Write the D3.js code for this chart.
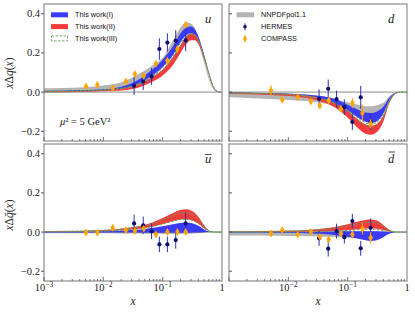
<!DOCTYPE html>
<html lang="en">
<head>
<meta charset="UTF-8">
<title>Polarized PDFs</title>
<script src="https://cdn.jsdelivr.net/npm/d3@7"></script>
<style>
  body { margin: 0; background: #fff; }
  svg text { font-family: "Liberation Serif", serif; fill: #222; }
  svg text.leg { font-family: "Liberation Sans", Arial, sans-serif; font-size: 7.3px; fill: #111; }
</style>
</head>
<body>
<svg id="chart" width="415" height="312"></svg>
<script>
// x grid for the bands
const xGrid = [0.001, 0.002, 0.005, 0.01, 0.02, 0.03, 0.05, 0.07, 0.1, 0.15, 0.2, 0.25, 0.3, 0.35, 0.4, 0.5, 0.6, 0.7, 0.8, 0.9, 1.0];

// u
const uNnpdfHi = [0.02, 0.021, 0.025, 0.033, 0.05, 0.072, 0.11, 0.14, 0.175, 0.265, 0.33, 0.355, 0.35, 0.325, 0.28, 0.17, 0.08, 0.025, 0.004, 0, 0];
const uNnpdfLo = [-0.005, -0.003, 0.003, 0.01, 0.02, 0.03, 0.05, 0.08, 0.125, 0.2, 0.27, 0.305, 0.31, 0.29, 0.25, 0.15, 0.065, 0.018, 0.002, 0, 0];
const uIHi = [0.006, 0.007, 0.01, 0.014, 0.027, 0.045, 0.085, 0.12, 0.165, 0.235, 0.3, 0.33, 0.335, 0.32, 0.285, 0.19, 0.1, 0.035, 0.007, 0.0005, 0];
const uILo = [0.001, 0.002, 0.004, 0.007, 0.016, 0.028, 0.06, 0.09, 0.13, 0.19, 0.255, 0.29, 0.3, 0.29, 0.26, 0.175, 0.09, 0.03, 0.006, 0, 0];
const uIIHi = [0.004, 0.005, 0.007, 0.01, 0.018, 0.028, 0.055, 0.08, 0.115, 0.18, 0.24, 0.285, 0.3, 0.295, 0.27, 0.185, 0.1, 0.035, 0.007, 0.0005, 0];
const uIILo = [0, 0.001, 0.002, 0.004, 0.008, 0.014, 0.035, 0.055, 0.085, 0.14, 0.2, 0.245, 0.265, 0.265, 0.245, 0.17, 0.09, 0.03, 0.006, 0, 0];
const uIIIHi = [0.005, 0.006, 0.008, 0.012, 0.02, 0.03, 0.058, 0.085, 0.125, 0.185, 0.25, 0.285, 0.298, 0.29, 0.265, 0.18, 0.095, 0.033, 0.006, 0, 0];
const uIIILo = [0.003, 0.004, 0.006, 0.009, 0.017, 0.026, 0.052, 0.078, 0.112, 0.176, 0.236, 0.28, 0.296, 0.29, 0.265, 0.18, 0.095, 0.033, 0.006, 0, 0];

// d
const dNnpdfHi = [0.0, -0.002, -0.006, -0.01, -0.015, -0.02, -0.03, -0.04, -0.052, -0.065, -0.072, -0.072, -0.068, -0.062, -0.055, -0.022, -0.006, -0.001, 0, 0, 0];
const dNnpdfLo = [-0.027, -0.03, -0.035, -0.04, -0.046, -0.052, -0.063, -0.075, -0.09, -0.108, -0.118, -0.12, -0.115, -0.105, -0.09, -0.038, -0.01, -0.002, 0, 0, 0];
const dIHi = [-0.002, -0.003, -0.005, -0.007, -0.012, -0.017, -0.028, -0.042, -0.065, -0.09, -0.105, -0.107, -0.102, -0.09, -0.075, -0.03, -0.008, -0.001, 0, 0, 0];
const dILo = [-0.008, -0.009, -0.012, -0.015, -0.024, -0.033, -0.05, -0.068, -0.095, -0.13, -0.152, -0.158, -0.152, -0.135, -0.11, -0.045, -0.013, -0.002, 0, 0, 0];
const dIIHi = [-0.003, -0.004, -0.007, -0.01, -0.018, -0.027, -0.045, -0.065, -0.095, -0.14, -0.165, -0.172, -0.165, -0.148, -0.12, -0.048, -0.013, -0.002, 0, 0, 0];
const dIILo = [-0.009, -0.011, -0.015, -0.02, -0.03, -0.042, -0.065, -0.09, -0.13, -0.185, -0.213, -0.218, -0.208, -0.185, -0.15, -0.06, -0.017, -0.003, 0, 0, 0];
const dIIIHi = [-0.004, -0.005, -0.008, -0.011, -0.019, -0.028, -0.045, -0.063, -0.092, -0.133, -0.158, -0.163, -0.157, -0.14, -0.114, -0.046, -0.013, -0.002, 0, 0, 0];
const dIIILo = [-0.005, -0.006, -0.009, -0.012, -0.021, -0.031, -0.05, -0.07, -0.1, -0.145, -0.17, -0.177, -0.17, -0.152, -0.124, -0.05, -0.014, -0.002, 0, 0, 0];

// u-bar
const ubNnpdfHi = [0.004, 0.004, 0.004, 0.004, 0.004, 0.004, 0.003, 0.003, 0.002, 0.002, 0.001, 0.001, 0.001, 0, 0, 0, 0, 0, 0, 0, 0];
const ubNnpdfLo = [-0.006, -0.006, -0.006, -0.006, -0.007, -0.007, -0.008, -0.009, -0.01, -0.01, -0.01, -0.009, -0.008, -0.007, -0.005, -0.002, -0.001, 0, 0, 0, 0];
const ubIHi = [0.002, 0.002, 0.003, 0.004, 0.007, 0.01, 0.016, 0.022, 0.03, 0.04, 0.046, 0.048, 0.046, 0.04, 0.032, 0.013, 0.003, 0.001, 0, 0, 0];
const ubILo = [-0.002, -0.002, -0.002, -0.002, -0.002, -0.002, -0.003, -0.003, -0.003, -0.003, -0.003, -0.003, -0.003, -0.002, -0.002, -0.001, 0, 0, 0, 0, 0];
const ubIIHi = [0.004, 0.005, 0.007, 0.01, 0.017, 0.024, 0.038, 0.052, 0.072, 0.098, 0.113, 0.116, 0.11, 0.097, 0.078, 0.035, 0.008, 0.001, 0, 0, 0];
const ubIILo = [0.001, 0.002, 0.003, 0.005, 0.009, 0.013, 0.021, 0.029, 0.041, 0.056, 0.064, 0.065, 0.062, 0.054, 0.044, 0.019, 0.005, 0.001, 0, 0, 0];
const ubIIIHi = [0.003, 0.004, 0.006, 0.009, 0.015, 0.021, 0.033, 0.045, 0.062, 0.085, 0.097, 0.099, 0.094, 0.083, 0.067, 0.03, 0.007, 0.001, 0, 0, 0];
const ubIIILo = [0.001, 0.002, 0.003, 0.005, 0.009, 0.013, 0.021, 0.029, 0.041, 0.056, 0.064, 0.065, 0.062, 0.054, 0.044, 0.019, 0.005, 0.001, 0, 0, 0];

// d-bar
const dbNnpdfHi = [0.002, 0.002, 0.001, 0, -0.001, -0.002, -0.003, -0.004, -0.005, -0.005, -0.005, -0.004, -0.004, -0.003, -0.002, -0.001, 0, 0, 0, 0, 0];
const dbNnpdfLo = [-0.018, -0.018, -0.019, -0.02, -0.021, -0.022, -0.024, -0.026, -0.028, -0.028, -0.026, -0.024, -0.02, -0.016, -0.012, -0.005, -0.001, 0, 0, 0, 0];
const dbIHi = [0.001, 0.001, 0.001, 0.002, 0.002, 0.002, 0.003, 0.003, 0.004, 0.004, 0.004, 0.004, 0.004, 0.003, 0.003, 0.001, 0, 0, 0, 0, 0];
const dbILo = [-0.002, -0.002, -0.003, -0.004, -0.006, -0.008, -0.012, -0.017, -0.024, -0.034, -0.042, -0.045, -0.043, -0.036, -0.026, -0.009, -0.002, 0, 0, 0, 0];
const dbIIHi = [0.003, 0.004, 0.005, 0.007, 0.011, 0.015, 0.022, 0.03, 0.04, 0.054, 0.062, 0.064, 0.06, 0.05, 0.036, 0.012, 0.002, 0, 0, 0, 0];
const dbIILo = [0, 0, 0.001, 0.001, 0.002, 0.003, 0.005, 0.007, 0.01, 0.014, 0.017, 0.018, 0.017, 0.014, 0.01, 0.003, 0.001, 0, 0, 0, 0];
const dbIIIHi = [0.002, 0.003, 0.004, 0.006, 0.009, 0.012, 0.018, 0.024, 0.032, 0.043, 0.049, 0.05, 0.047, 0.04, 0.029, 0.01, 0.002, 0, 0, 0, 0];
const dbIIILo = [0, 0, 0, 0.001, 0.001, 0.002, 0.004, 0.006, 0.008, 0.012, 0.014, 0.015, 0.014, 0.011, 0.008, 0.003, 0.001, 0, 0, 0, 0];

// data points
const hermesX = [0.033, 0.047, 0.065, 0.088, 0.12, 0.166, 0.244];
const hermesU = [0.032, 0.054, 0.08, 0.22, 0.253, 0.262, 0.264];
const hermesUErr = [0.047, 0.043, 0.043, 0.055, 0.047, 0.054, 0.055];
const hermesD = [-0.034, 0.017, -0.036, -0.077, -0.153, -0.027, -0.155];
const hermesDErr = [0.047, 0.047, 0.043, 0.04, 0.04, 0.058, 0.04];
const hermesUb = [0.044, 0.034, 0.004, -0.063, -0.063, -0.041, 0.044];
const hermesUbErr = [0.045, 0.045, 0.04, 0.04, 0.04, 0.044, 0.055];
const hermesDb = [-0.032, -0.085, 0.005, -0.026, 0.056, -0.083, 0.022];
const hermesDbErr = [0.038, 0.04, 0.038, 0.032, 0.037, 0.038, 0.047];

const compassX = [0.0051, 0.0079, 0.0144, 0.024, 0.034, 0.048, 0.077, 0.12, 0.177, 0.244];
const compassU = [0.029, 0.037, 0.02, 0.054, 0.092, 0.083, 0.145, 0.16, 0.22, 0.344];
const compassUErr = [0.008, 0.008, 0.008, 0.008, 0.008, 0.008, 0.01, 0.01, 0.012, 0.012];
const compassD = [0.008, -0.039, -0.026, -0.048, -0.07, -0.043, -0.087, -0.056, -0.107, -0.162];
const compassDErr = [0.026, 0.01, 0.008, 0.008, 0.012, 0.01, 0.015, 0.026, 0.043, 0.023];
const compassUb = [-0.003, -0.003, 0.022, 0.009, 0.005, 0.017, -0.012, 0.0, 0.0, 0.0];
const compassUbErr = [0.006, 0.006, 0.006, 0.006, 0.006, 0.006, 0.006, 0.006, 0.006, 0.006];
const compassDb = [-0.007, 0.01, -0.013, 0.0, -0.024, -0.037, -0.007, -0.013, 0.017, -0.029];
const compassDbErr = [0.015, 0.01, 0.008, 0.01, 0.012, 0.012, 0.015, 0.02, 0.03, 0.03];

const yTicks = [-0.2, 0.0, 0.2, 0.4];
const legendLeft = ["This work(I)", "This work(II)", "This work(III)"];
const legendRight = ["NNPDFpol1.1", "HERMES", "COMPASS"];

const colGray = "#b4b4b4", colBlue = "#3b3bf7", colRed = "#f53b3b", colGreen = "#5f9f5f";
const colHermes = "#0d0d6b", colHermesBar = "#3030b0", colCompass = "#ffa500";

const svg = d3.select("#chart");

const cols = [[44, 222], [229, 407]];
const rows = [[4, 141], [144, 281]];

const panels = [
  { c: 0, r: 0, name: "u", nn: [uNnpdfLo, uNnpdfHi], b1: [uILo, uIHi], b2: [uIILo, uIIHi], b3: [uIIILo, uIIIHi],
    her: [hermesU, hermesUErr], com: [compassU, compassUErr] },
  { c: 1, r: 0, name: "d", nn: [dNnpdfLo, dNnpdfHi], b1: [dILo, dIHi], b2: [dIILo, dIIHi], b3: [dIIILo, dIIIHi],
    her: [hermesD, hermesDErr], com: [compassD, compassDErr] },
  { c: 0, r: 1, name: "u", bar: true, nn: [ubNnpdfLo, ubNnpdfHi], b1: [ubILo, ubIHi], b2: [ubIILo, ubIIHi], b3: [ubIIILo, ubIIIHi],
    her: [hermesUb, hermesUbErr], com: [compassUb, compassUbErr] },
  { c: 1, r: 1, name: "d", bar: true, nn: [dbNnpdfLo, dbNnpdfHi], b1: [dbILo, dbIHi], b2: [dbIILo, dbIIHi], b3: [dbIIILo, dbIIIHi],
    her: [hermesDb, hermesDbErr], com: [compassDb, compassDbErr] }
];

const defs = svg.append("defs");

panels.forEach((p, i) => {
  const x = d3.scaleLog().domain([1e-3, 1]).range(cols[p.c]);
  const y = d3.scaleLinear().domain([-0.25, 0.45]).range([rows[p.r][1], rows[p.r][0]]);
  const [x0, x1] = cols[p.c], [y0, y1] = rows[p.r];

  defs.append("clipPath").attr("id", "clip" + i)
    .append("rect").attr("x", x0).attr("y", y0).attr("width", x1 - x0).attr("height", y1 - y0);

  const g = svg.append("g");
  const inner = g.append("g").attr("clip-path", `url(#clip${i})`);

  const band = (lo, hi) => xGrid.map((xv, k) => ({ x: xv, lo: lo[k], hi: hi[k] }));
  const area = d3.area().x(d => x(d.x)).y0(d => y(d.lo)).y1(d => y(d.hi)).curve(d3.curveMonotoneX);
  const lineLo = d3.line().x(d => x(d.x)).y(d => y(d.lo)).curve(d3.curveMonotoneX);
  const lineHi = d3.line().x(d => x(d.x)).y(d => y(d.hi)).curve(d3.curveMonotoneX);

  inner.append("path").attr("d", area(band(p.nn[0], p.nn[1]))).attr("fill", colGray);
  inner.append("line").attr("x1", x0).attr("x2", x1).attr("y1", y(0)).attr("y2", y(0))
    .attr("stroke", "#8a8a8a").attr("stroke-width", 1);
  inner.append("path").attr("d", area(band(p.b1[0], p.b1[1]))).attr("fill", colBlue);
  inner.append("path").attr("d", area(band(p.b2[0], p.b2[1]))).attr("fill", colRed);
  const b3 = band(p.b3[0], p.b3[1]);
  [lineLo, lineHi].forEach(fn => {
    inner.append("path").attr("d", fn(b3)).attr("fill", "none")
      .attr("stroke", colGreen).attr("stroke-width", 1).attr("stroke-dasharray", "2.5,1.5");
  });

  // HERMES
  hermesX.forEach((xv, k) => {
    const v = p.her[0][k], e = p.her[1][k];
    inner.append("line").attr("x1", x(xv)).attr("x2", x(xv)).attr("y1", y(v - e)).attr("y2", y(v + e))
      .attr("stroke", colHermesBar).attr("stroke-width", 1);
    inner.append("circle").attr("cx", x(xv)).attr("cy", y(v)).attr("r", 2.1).attr("fill", colHermes);
  });
  // COMPASS
  compassX.forEach((xv, k) => {
    const v = p.com[0][k], e = p.com[1][k];
    inner.append("line").attr("x1", x(xv)).attr("x2", x(xv)).attr("y1", y(v - e)).attr("y2", y(v + e))
      .attr("stroke", colCompass).attr("stroke-width", 1);
    inner.append("path").attr("d", d3.symbol(d3.symbolDiamond, 18)())
      .attr("transform", `translate(${x(xv)},${y(v)})`).attr("fill", colCompass);
  });

  // frame
  g.append("rect").attr("x", x0).attr("y", y0).attr("width", x1 - x0).attr("height", y1 - y0)
    .attr("fill", "none").attr("stroke", "#777").attr("stroke-width", 1);

  // y ticks
  yTicks.forEach(t => {
    if (p.c === 0) {
      g.append("line").attr("x1", x0 - 3).attr("x2", x0).attr("y1", y(t)).attr("y2", y(t)).attr("stroke", "#555");
      g.append("text").attr("x", x0 - 4).attr("y", y(t) + 3.5).attr("text-anchor", "end")
        .attr("font-size", 10.5).text(t === 0 ? "0.0" : (t < 0 ? "\u2212" : "") + Math.abs(t).toFixed(1));
    } else {
      g.append("line").attr("x1", x0).attr("x2", x0 + 3).attr("y1", y(t)).attr("y2", y(t)).attr("stroke", "#555");
    }
  });

  // x ticks (major + minor, inward)
  for (let e = -3; e < 0; e++) {
    for (let m = 1; m <= 9; m++) {
      const xv = m * Math.pow(10, e);
      const len = m === 1 ? 4 : 2;
      g.append("line").attr("x1", x(xv)).attr("x2", x(xv)).attr("y1", y1).attr("y2", y1 - len)
        .attr("stroke", "#555").attr("stroke-width", 0.8);
    }
  }

  // x tick labels on bottom row
  if (p.r === 1) {
    const labs = p.c === 0 ? [-3, -2, -1, 0] : [-2, -1, 0];
    labs.forEach(e => {
      const t = g.append("text").attr("x", x(Math.pow(10, e))).attr("y", 290.5)
        .attr("text-anchor", "middle").attr("font-size", 10.5);
      if (e === 0) t.text("1");
      else {
        t.append("tspan").text("10");
        t.append("tspan").attr("dy", -4).attr("font-size", 7.5).text("\u2212" + (-e));
      }
    });
    g.append("text").attr("x", (x0 + x1) / 2).attr("y", 304.5).attr("text-anchor", "middle")
      .attr("font-size", 11.5).attr("font-style", "italic").text("x");
  }

  // flavour label (bar drawn as a short line)
  const lx = p.c === 0 ? 208 : 391;
  const ly = p.r === 0 ? 23 : 163;
  g.append("text").attr("x", lx).attr("y", ly).attr("text-anchor", "middle")
    .attr("font-size", 12.5).attr("font-style", "italic").text(p.name);
  if (p.bar) {
    const isD = p.name === "d";
    const bx = isD ? lx + 0.5 : lx;
    const by = isD ? ly - 11 : ly - 8.5;
    g.append("line").attr("x1", bx - 3).attr("x2", bx + 3.5).attr("y1", by).attr("y2", by)
      .attr("stroke", "#222").attr("stroke-width", 0.8);
  }
});

// y axis labels
[[73, false], [215, true]].forEach(([cy, bar]) => {
  const t = svg.append("text").attr("transform", `translate(13,${cy}) rotate(-90)`)
    .attr("text-anchor", "middle").attr("font-size", 11.5);
  t.append("tspan").attr("font-style", "italic").text("x");
  t.append("tspan").text("Δ");
  t.append("tspan").attr("font-style", "italic").text(bar ? "q\u0304" : "q");
  t.append("tspan").text("(");
  t.append("tspan").attr("font-style", "italic").text("x");
  t.append("tspan").text(")");
});

// mu^2 annotation
const mu = svg.append("text").attr("x", 60).attr("y", 124.5).attr("font-size", 10.5);
mu.append("tspan").attr("font-style", "italic").text("μ");
mu.append("tspan").text("² = 5 GeV²");

// left legend
const legL = svg.append("g");
legendLeft.forEach((name, k) => {
  const cy = 14.8 + k * 11.8;
  if (k < 2) {
    legL.append("rect").attr("x", 51).attr("y", cy - 2.5).attr("width", 17).attr("height", 5)
      .attr("fill", k === 0 ? colBlue : colRed);
  } else {
    legL.append("rect").attr("x", 51.5).attr("y", cy - 2.5).attr("width", 16).attr("height", 5)
      .attr("fill", "none").attr("stroke", colGreen).attr("stroke-width", 0.9).attr("stroke-dasharray", "2.5,1.5");
  }
  legL.append("text").attr("class", "leg").attr("x", 75).attr("y", cy + 2.6).text(name);
});

// right legend
const legR = svg.append("g");
legendRight.forEach((name, k) => {
  const cy = 14.8 + k * 12;
  if (k === 0) {
    legR.append("rect").attr("x", 236.5).attr("y", cy - 2.5).attr("width", 17.5).attr("height", 5).attr("fill", colGray);
  } else if (k === 1) {
    legR.append("line").attr("x1", 245).attr("x2", 245).attr("y1", cy - 3.5).attr("y2", cy + 3.5).attr("stroke", colHermesBar);
    legR.append("circle").attr("cx", 245).attr("cy", cy).attr("r", 1.8).attr("fill", colHermes);
  } else {
    legR.append("line").attr("x1", 245).attr("x2", 245).attr("y1", cy - 3.5).attr("y2", cy + 3.5).attr("stroke", colCompass);
    legR.append("path").attr("d", d3.symbol(d3.symbolDiamond, 14)()).attr("transform", `translate(245,${cy})`).attr("fill", colCompass);
  }
  legR.append("text").attr("class", "leg").attr("x", 261).attr("y", cy + 2.6).text(name);
});
</script>
</body>
</html>
